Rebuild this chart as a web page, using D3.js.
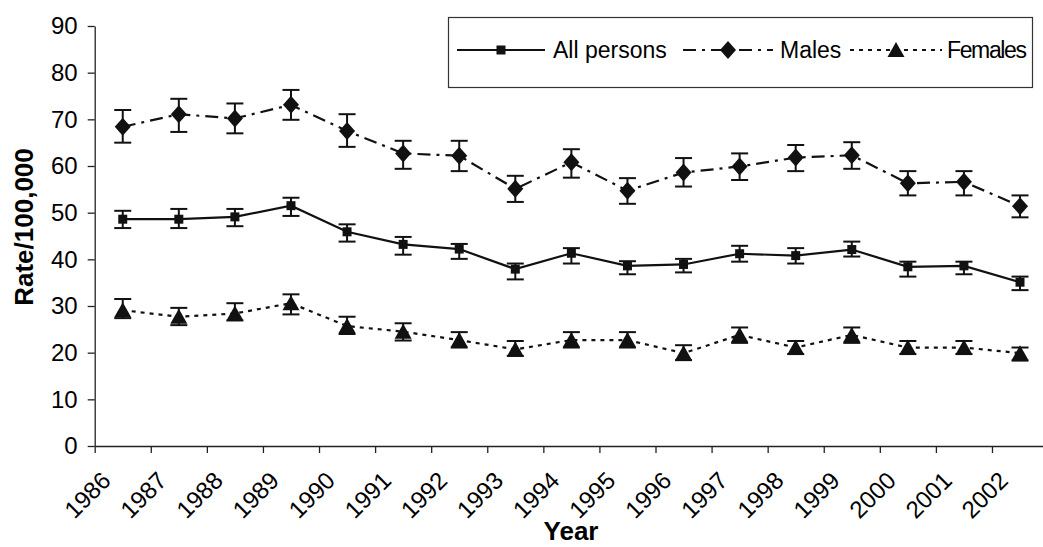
<!DOCTYPE html>
<html>
<head>
<meta charset="utf-8">
<script src="https://cdn.jsdelivr.net/npm/d3@7"></script>
<style>
  body { margin: 0; background: #fff; }
  svg { display: block; font-family: "Liberation Sans", Arial, sans-serif; }
</style>
</head>
<body>
<div id="chart"></div>
<script>
var years = ["1986","1987","1988","1989","1990","1991","1992","1993","1994","1995","1996","1997","1998","1999","2000","2001","2002"];

var allRate = [48.6, 48.6, 49.1, 51.5, 45.9, 43.2, 42.2, 37.9, 41.3, 38.6, 38.9, 41.2, 40.8, 42.1, 38.4, 38.6, 35.1];
var allLow  = [46.7, 46.7, 47.1, 49.3, 43.8, 41.0, 40.1, 35.7, 39.1, 36.8, 37.2, 39.5, 39.1, 40.6, 36.3, 36.8, 33.4];
var allHigh = [50.4, 50.8, 50.8, 53.2, 47.5, 44.8, 43.3, 39.1, 42.4, 39.6, 40.1, 42.9, 42.4, 43.8, 39.5, 39.5, 36.3];

var maleRate = [68.4, 71.1, 70.2, 73.1, 67.5, 62.7, 62.2, 55.1, 60.8, 54.7, 58.6, 59.9, 61.8, 62.3, 56.3, 56.6, 51.4];
var maleLow  = [65.0, 67.3, 67.0, 69.9, 64.1, 59.4, 58.9, 52.3, 57.5, 51.9, 55.6, 57.0, 58.9, 59.4, 53.7, 53.7, 49.0];
var maleHigh = [72.0, 74.4, 73.4, 76.3, 71.1, 65.4, 65.4, 57.9, 63.6, 57.4, 61.7, 62.7, 64.5, 65.1, 58.9, 58.9, 53.7];

var femRate = [29.1, 27.7, 28.4, 30.6, 25.7, 24.5, 22.7, 20.7, 22.7, 22.7, 19.9, 23.8, 21.1, 23.8, 21.1, 21.1, 19.9];
var femLow  = [27.4, 25.9, 26.9, 28.2, 24.0, 22.6, 21.1, 19.3, 21.1, 21.1, 18.4, 22.1, 19.7, 22.1, 19.7, 19.7, 18.3];
var femHigh = [31.5, 29.6, 30.6, 32.5, 27.7, 26.3, 24.4, 22.5, 24.4, 24.4, 21.6, 25.4, 22.5, 25.4, 22.5, 22.5, 21.1];

var yTicks = [0, 10, 20, 30, 40, 50, 60, 70, 80, 90];

var seriesNames = ["All persons", "Males", "Females"];

function makeSeries(name, rate, low, high, marker, dash) {
  return {
    name: name,
    marker: marker,
    dash: dash,
    data: years.map(function(y, i) { return { i: i, year: y, v: rate[i], lo: low[i], hi: high[i] } })
  }
}

var series = [
  makeSeries(seriesNames[0], allRate, allLow, allHigh, "square", null),
  makeSeries(seriesNames[1], maleRate, maleLow, maleHigh, "diamond", "13,6,3,6"),
  makeSeries(seriesNames[2], femRate, femLow, femHigh, "triangle", "4,5")
];

var W = 1043, H = 547;
var plot = { left: 94.7, top: 26, bottom: 446, step: 56.08 };

var svg = d3.select("#chart").append("svg")
  .attr("width", W)
  .attr("height", H);

var x = d3.scaleLinear()
  .domain([0, years.length])
  .range([plot.left, plot.left + plot.step * years.length]);

var y = d3.scaleLinear()
  .domain([0, 90])
  .range([plot.bottom, plot.top]);

// y axis
var yAxis = svg.append("g")
  .attr("transform", "translate(" + plot.left + ",0)")
  .call(d3.axisLeft(y).tickValues(yTicks).tickSize(7).tickSizeOuter(0).tickPadding(10));
yAxis.selectAll("text").attr("font-size", 24).attr("fill", "#000").attr("font-family", "Liberation Sans, Arial, sans-serif");
yAxis.selectAll("line, path").attr("stroke", "#222").attr("stroke-width", 1.3);

// x axis: ticks at the category borders, labels under them
var xAxis = svg.append("g")
  .attr("transform", "translate(0," + plot.bottom + ")")
  .call(d3.axisBottom(x).tickValues(d3.range(years.length)).tickFormat(function(i) { return years[i] }).tickSize(7).tickSizeOuter(0));
xAxis.selectAll("line, path").attr("stroke", "#222").attr("stroke-width", 1.3);
xAxis.selectAll("text")
  .attr("font-size", 24)
  .attr("fill", "#000")
  .attr("font-family", "Liberation Sans, Arial, sans-serif")
  .attr("text-anchor", "end")
  .attr("y", 0)
  .attr("dy", 0)
  .attr("transform", "translate(17,36) rotate(-45)");

// axis titles
svg.append("text")
  .attr("transform", "translate(33," + 227 + ") rotate(-90)")
  .attr("text-anchor", "middle")
  .attr("font-size", 26)
  .attr("font-weight", "bold")
  .text("Rate/100,000");

svg.append("text")
  .attr("x", 571)
  .attr("y", 540)
  .attr("text-anchor", "middle")
  .attr("font-size", 26)
  .attr("font-weight", "bold")
  .text("Year");

function markerPath(type) {
  if(type == "square") return "M-4.5,-4.5H4.5V4.5H-4.5Z";
  if(type == "diamond") return "M0,-9L8,0L0,9L-8,0Z";
  return "M0,-8L8.5,7H-8.5Z";
}

var line = d3.line()
  .x(function(d) { return x(d.i + 0.5) })
  .y(function(d) { return y(d.v) });

series.forEach(function(s) {
  var g = svg.append("g");

  // error bars
  var eb = g.selectAll("g.err")
    .data(s.data)
    .enter()
    .append("g")
      .attr("class", "err")
      .attr("stroke", "#111")
      .attr("stroke-width", 2);
  eb.append("line")
    .attr("x1", d => x(d.i + 0.5)).attr("x2", d => x(d.i + 0.5))
    .attr("y1", d => y(d.lo)).attr("y2", d => y(d.hi));
  eb.append("line")
    .attr("x1", d => x(d.i + 0.5) - 8.5).attr("x2", d => x(d.i + 0.5) + 8.5)
    .attr("y1", d => y(d.lo)).attr("y2", d => y(d.lo));
  eb.append("line")
    .attr("x1", d => x(d.i + 0.5) - 8.5).attr("x2", d => x(d.i + 0.5) + 8.5)
    .attr("y1", d => y(d.hi)).attr("y2", d => y(d.hi));

  g.append("path")
    .datum(s.data)
    .attr("fill", "none")
    .attr("stroke", "#111")
    .attr("stroke-width", 2.2)
    .attr("stroke-dasharray", s.dash)
    .attr("d", line);

  g.selectAll("path.mk")
    .data(s.data)
    .enter()
    .append("path")
      .attr("class", "mk")
      .attr("fill", "#111")
      .attr("transform", d => "translate(" + x(d.i + 0.5) + "," + y(d.v) + ")")
      .attr("d", markerPath(s.marker));
});

// legend
var legend = svg.append("g");
legend.append("rect")
  .attr("x", 448.5).attr("y", 17.5)
  .attr("width", 584).attr("height", 70)
  .attr("fill", "#fff")
  .attr("stroke", "#333")
  .attr("stroke-width", 1.2);

var legendItems = [
  { s: series[0], x1: 457, x2: 545, tx: 553 },
  { s: series[1], x1: 683, x2: 773, tx: 780 },
  { s: series[2], x1: 850, x2: 942, tx: 947 }
];
legendItems.forEach(function(it) {
  legend.append("line")
    .attr("x1", it.x1).attr("x2", it.x2)
    .attr("y1", 50).attr("y2", 50)
    .attr("stroke", "#111")
    .attr("stroke-width", 2.2)
    .attr("stroke-dasharray", it.s.dash);
  legend.append("path")
    .attr("transform", "translate(" + ((it.x1 + it.x2) / 2) + ",50)")
    .attr("fill", "#111")
    .attr("d", markerPath(it.s.marker));
  legend.append("text")
    .attr("x", it.tx)
    .attr("y", 58)
    .attr("font-size", 23)
    .attr("textLength", it.s.name == "Females" ? 80 : null)
    .text(it.s.name);
});
</script>
</body>
</html>
